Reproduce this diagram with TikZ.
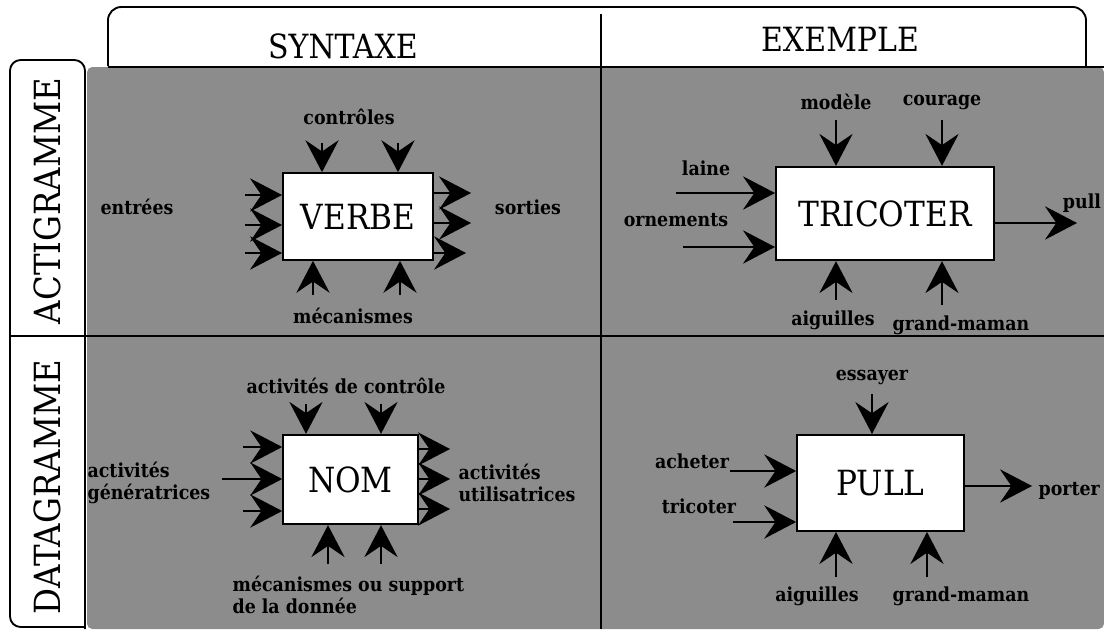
\documentclass[tikz,border=0pt]{standalone}
\usepackage{fontspec}
\setmainfont{DejaVu Serif Condensed}
\usetikzlibrary{arrows.meta,positioning,calc}
\tikzset{
    fonction/.style={draw,fill=white,line width=1.5pt,inner sep=0pt,font=\fontsize{26}{29}\selectfont},
    etiquette/.style={inner sep=1pt,font=\bfseries\fontsize{14.5}{17}\selectfont},
    titre/.style={inner sep=0pt,font=\fontsize{25}{28}\selectfont},
}

\begin{document}
\begin{tikzpicture}[x=0.75pt,y=-0.75pt,>={Stealth[length=24pt,width=25pt,inset=8.5pt]},fleche/.style={->,line width=0.9pt},cadre/.style={line width=1.4pt}]
        \useasboundingbox (0,0) rectangle (1104,629);
        % fond et cadres
        \fill[black!45,rounded corners=4pt] (87,67) rectangle (1104,629);
        \draw[cadre,rounded corners=10pt] (108,66) -- (108,7) -- (1086,7) -- (1086,66);
        \draw[cadre] (108,67) -- (1104,67);
        \draw[cadre,rounded corners=8pt] (85,629) -- (85,60) -- (10,60) -- (10,627) -- (85,627);
        \draw[cadre] (10,336) -- (1104,336);
        \draw[cadre] (601,14) -- (601,629);
        \node[titre] (syntaxe) at (343,46) {SYNTAXE};
        \node[titre] (exemple) at (840,39) {EXEMPLE};
        \node[titre,font=\fontsize{27}{30}\selectfont,rotate=90] (acti) at (47,201) {ACTIGRAMME};
        \node[titre,font=\fontsize{27}{30}\selectfont,rotate=90] (data) at (47,487) {DATAGRAMME};

        % actigramme : syntaxe
        \node[fonction,minimum width=112.5pt,minimum height=65pt] (verbe) at (358,216.5) {VERBE};
        \node[etiquette] (controles) at (349,117) {contrôles};
        \node[etiquette] (entrees) at (137,207) {entrées};
        \node[etiquette] (sorties) at (528,207) {sorties};
        \node[etiquette] (mecanismes) at (353,316) {mécanismes};
        \coordinate (vi1) at (245,195);
        \coordinate (vi2) at (245,225);
        \coordinate (vi3) at (245,253);
        \coordinate (vc1) at (322,143);
        \coordinate (vc2) at (398,143);
        \coordinate (vo1) at (471,193);
        \coordinate (vo2) at (471,223);
        \coordinate (vo3) at (466,253);
        \coordinate (vm1) at (313,295);
        \coordinate (vm2) at (400,295);
        \path[fleche]
            (vi1) edge (vi1 -| verbe.west)
            (vi2) edge (vi2 -| verbe.west)
            (vi3) edge (vi3 -| verbe.west)
            (vc1) edge (vc1 |- verbe.north)
            (vc2) edge (vc2 |- verbe.north)
            (vo1 -| verbe.east) edge (vo1)
            (vo2 -| verbe.east) edge (vo2)
            (vo3 -| verbe.east) edge (vo3)
            (vm1) edge (vm1 |- verbe.south)
            (vm2) edge (vm2 |- verbe.south)
            ;

        % actigramme : exemple
        \node[fonction,minimum width=163.5pt,minimum height=70pt] (tricoter) at (885,213.5) {TRICOTER};
        \node[etiquette] (laine) at (706,168) {laine};
        \node[etiquette] (ornements) at (676,220) {ornements};
        \node[etiquette] (modele) at (836,102) {modèle};
        \node[etiquette] (courage) at (942,102) {courage};
        \node[etiquette] (pull) at (1082,203) {pull};
        \node[etiquette] (aiguilles1) at (833,320) {aiguilles};
        \node[etiquette] (grandmaman1) at (961,325) {grand-maman};
        \coordinate (ti1) at (676,193);
        \coordinate (ti2) at (683,247);
        \coordinate (tc1) at (836,120);
        \coordinate (tc2) at (942,120);
        \coordinate (to1) at (1077,223);
        \coordinate (tm1) at (836,300);
        \coordinate (tm2) at (942,305);
        \path[fleche]
            (ti1) edge (ti1 -| tricoter.west)
            (ti2) edge (ti2 -| tricoter.west)
            (tc1) edge (tc1 |- tricoter.north)
            (tc2) edge (tc2 |- tricoter.north)
            (to1 -| tricoter.east) edge (to1)
            (tm1) edge (tm1 |- tricoter.south)
            (tm2) edge (tm2 |- tricoter.south)
            ;

        % datagramme : syntaxe
        \node[fonction,minimum width=101pt,minimum height=67pt] (nom) at (350.5,479.5) {NOM};
        \node[etiquette] (actcontrole) at (346,386) {activités de contrôle};
        \node[etiquette,anchor=west,align=left] (generatrices) at (86,483) {activités\\génératrices};
        \node[etiquette,anchor=west,align=left] (utilisatrices) at (457,483) {activités\\utilisatrices};
        \node[etiquette,anchor=west,align=left] (support) at (231,595) {mécanismes ou support\\de la donnée};
        \coordinate (ni1) at (243,447);
        \coordinate (ni2) at (222,479);
        \coordinate (ni3) at (243,511);
        \coordinate (nc1) at (306,404);
        \coordinate (nc2) at (381,404);
        \coordinate (no1) at (450,449);
        \coordinate (no2) at (450,479);
        \coordinate (no3) at (450,509);
        \coordinate (nm1) at (328,564);
        \coordinate (nm2) at (381,564);
        \path[fleche]
            (ni1) edge (ni1 -| nom.west)
            (ni2) edge (ni2 -| nom.west)
            (ni3) edge (ni3 -| nom.west)
            (nc1) edge (nc1 |- nom.north)
            (nc2) edge (nc2 |- nom.north)
            (no1 -| nom.east) edge (no1)
            (no2 -| nom.east) edge (no2)
            (no3 -| nom.east) edge (no3)
            (nm1) edge (nm1 |- nom.south)
            (nm2) edge (nm2 |- nom.south)
            ;

        % datagramme : exemple
        \node[fonction,minimum width=125pt,minimum height=72pt] (pullbox) at (880.5,483) {PULL};
        \node[etiquette] (acheter) at (692,461) {acheter};
        \node[etiquette] (tricot) at (699,506) {tricoter};
        \node[etiquette] (essayer) at (872,377) {essayer};
        \node[etiquette,anchor=west] (porter) at (1037,491) {porter};
        \node[etiquette] (aiguilles2) at (817,596) {aiguilles};
        \node[etiquette] (grandmaman2) at (961,596) {grand-maman};
        \coordinate (pi1) at (730,471);
        \coordinate (pi2) at (733,522);
        \coordinate (pc1) at (872,394);
        \coordinate (po1) at (1032,486);
        \coordinate (pm1) at (836,577);
        \coordinate (pm2) at (927,577);
        \path[fleche]
            (pi1) edge (pi1 -| pullbox.west)
            (pi2) edge (pi2 -| pullbox.west)
            (pc1) edge (pc1 |- pullbox.north)
            (po1 -| pullbox.east) edge (po1)
            (pm1) edge (pm1 |- pullbox.south)
            (pm2) edge (pm2 |- pullbox.south)
            ;
\end{tikzpicture}
\end{document}
